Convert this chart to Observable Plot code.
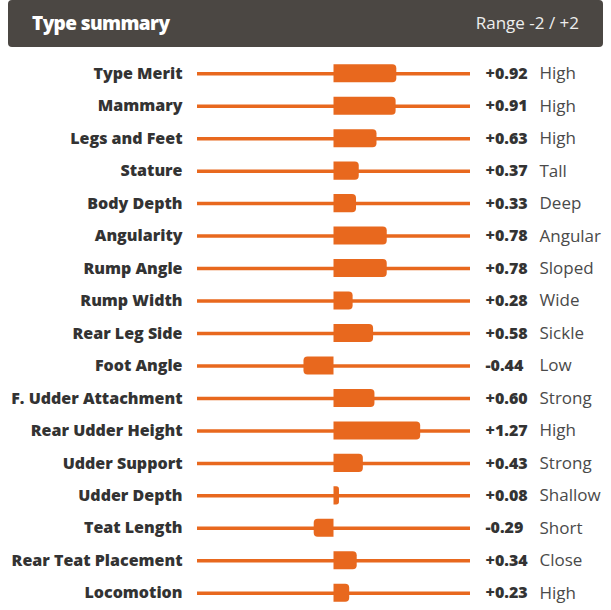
<!DOCTYPE html>
<html><head><meta charset="utf-8">
<script src="https://cdn.jsdelivr.net/npm/d3@7"></script>
<script src="https://cdn.jsdelivr.net/npm/@observablehq/plot@0.6"></script>
<style>
body{margin:0;background:#fff;font-family:"Open Sans",sans-serif;}
#hdr{margin:0 8px;height:47px;background:#4b4743;border-radius:4px;display:flex;align-items:center;justify-content:space-between;padding:0 24px 2px 24px;box-sizing:border-box;color:#fff;}
#hdr .t{font-weight:800;font-size:19px;letter-spacing:-0.6px;}
#hdr .r{font-size:17px;color:#eee;}
svg{display:block}
</style></head><body>
<div id="hdr"><span class="t">Type summary</span><span class="r">Range -2 / +2</span></div>
<div id="chart"></div>
<script>
const traits = ["Type Merit","Mammary","Legs and Feet","Stature","Body Depth","Angularity","Rump Angle","Rump Width","Rear Leg Side","Foot Angle","F. Udder Attachment","Rear Udder Height","Udder Support","Udder Depth","Teat Length","Rear Teat Placement","Locomotion"];
const values = [0.92,0.91,0.63,0.37,0.33,0.78,0.78,0.28,0.58,-0.44,0.60,1.27,0.43,0.08,-0.29,0.34,0.23];
const descriptions = ["High","High","High","Tall","Deep","Angular","Sloped","Wide","Sickle","Low","Strong","High","Strong","Shallow","Short","Close","High"];
const rangeMin = -2, rangeMax = 2;

const data = traits.map((t,i)=>({trait:t, value:values[i], desc:descriptions[i],
  label:(values[i]>=0?"+":"")+values[i].toFixed(2)}));
const orange = "#e8681e";
const chart = Plot.plot({
  width:611, height:563, marginTop:10, marginBottom:1, marginLeft:197, marginRight:141,
  style:{fontFamily:"'Open Sans',sans-serif"},
  x:{domain:[rangeMin,rangeMax], axis:null},
  y:{domain:traits, axis:null, padding:0, round:false},
  marks:[
    Plot.ruleY(data,{y:"trait", x1:rangeMin, x2:rangeMax, stroke:orange, strokeWidth:3.5}),
    Plot.barX(data,{y:"trait", x1:0, x2:"value", fill:orange, insetTop:7.2, insetBottom:7.2, className:"vbar"}),
    Plot.text(data,{y:"trait", x:rangeMin, dx:-15, text:"trait", textAnchor:"end", fontSize:16, fontWeight:800, fill:"#333", letterSpacing:"-0.15px"}),
    Plot.text(data,{y:"trait", x:rangeMax, dx:15, text:"label", textAnchor:"start", fontSize:16, fontWeight:800, fill:"#333", letterSpacing:"-0.4px"}),
    Plot.text(data,{y:"trait", x:rangeMax, dx:69, text:"desc", textAnchor:"start", fontSize:17, fill:"#4a4a4a"})
  ]
});
// round only the outer end of each bar (the end away from zero)
const x0 = chart.scale("x").apply(0);
d3.select(chart).selectAll(".vbar rect").each(function(){
  const el = d3.select(this);
  const x = +el.attr("x"), y = +el.attr("y"), w = +el.attr("width"), h = +el.attr("height");
  const r = Math.min(4, w/2, h/2);
  let p;
  if (x < x0 - 0.5) { // negative: round left
    p = `M${x+w},${y}H${x+r}A${r},${r} 0 0 0 ${x},${y+r}V${y+h-r}A${r},${r} 0 0 0 ${x+r},${y+h}H${x+w}Z`;
  } else {
    p = `M${x},${y}H${x+w-r}A${r},${r} 0 0 1 ${x+w},${y+r}V${y+h-r}A${r},${r} 0 0 1 ${x+w-r},${y+h}H${x}Z`;
  }
  const path = d3.create("svg:path").attr("d", p).node();
  for (const a of ["fill","transform"]) if (this.getAttribute(a)) path.setAttribute(a, this.getAttribute(a));
  this.replaceWith(path);
});
document.getElementById("chart").appendChild(chart);
</script>
</body></html>
